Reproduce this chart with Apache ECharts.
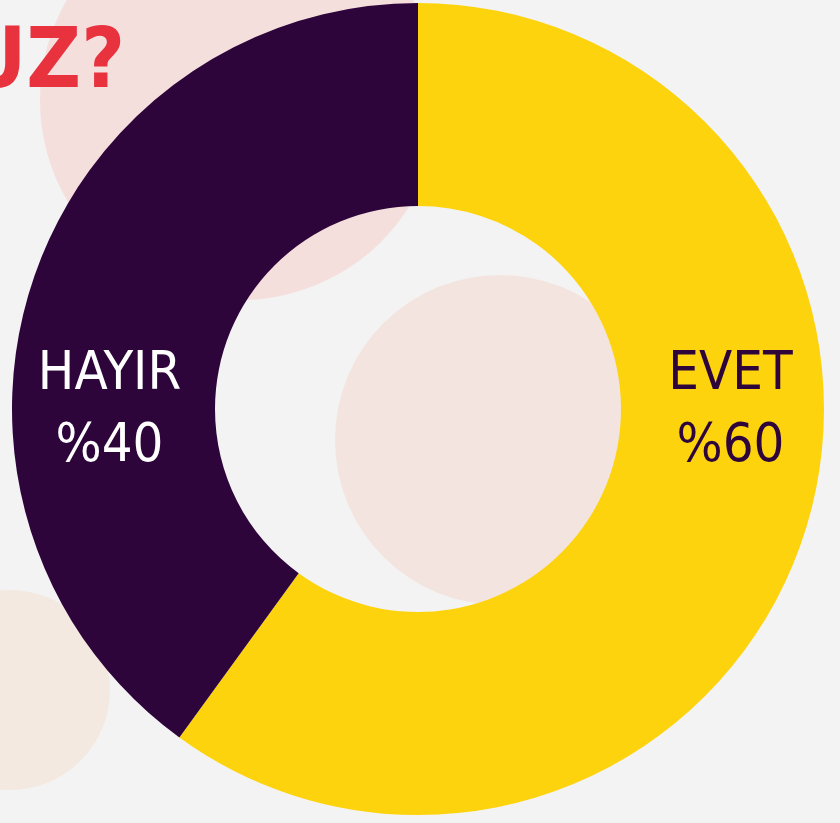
<!DOCTYPE html>
<html>
<head>
<meta charset="utf-8">
<script src="https://cdn.jsdelivr.net/npm/echarts@6/dist/echarts.min.js"></script>
<style>
  html, body { margin: 0; padding: 0; background: #f3f3f3; }
  #chart { width: 840px; height: 823px; }
</style>
</head>
<body>
<div id="chart"></div>
<script>
const categories = ['EVET', 'HAYIR'];
const values = [60, 40];
const colors = ['#FDD30E', '#2E053B'];
const labelColors = ['#2E053B', '#ffffff'];

const CX = 418, CY = 409, R_IN = 203, R_OUT = 406;
const FONT = '"DejaVu Sans", sans-serif';

const chart = echarts.init(document.getElementById('chart'));

const option = {
  backgroundColor: '#f3f3f3',
  animation: false,
  title: {
    text: 'UZ?',
    left: -40,
    top: 18,
    textStyle: {
      color: '#E8333F',
      fontSize: 84,
      // goes into the canvas font shorthand -> bold + condensed face
      fontWeight: 'bold condensed',
      fontFamily: FONT
    }
  },
  // faded background photo, roughly
  graphic: [
    { type: 'circle', z: -10, shape: { cx: 240, cy: 100, r: 200 }, style: { fill: '#f5dfdd' } },
    { type: 'circle', z: -10, shape: { cx: 500, cy: 440, r: 165 }, style: { fill: '#f3e4df' } },
    { type: 'circle', z: -10, shape: { cx: 10, cy: 690, r: 100 }, style: { fill: '#f3e9e0' } }
  ],
  series: [
    {
      type: 'pie',
      center: [CX, CY],
      radius: [R_IN, R_OUT],
      startAngle: 90,
      clockwise: true,
      silent: true,
      data: categories.map((name, i) => ({
        name,
        value: values[i],
        itemStyle: { color: colors[i] },
        label: { color: labelColors[i] }
      })),
      label: {
        show: true,
        position: 'inside',
        align: 'center',
        verticalAlign: 'middle',
        fontFamily: FONT,
        fontWeight: 'condensed',
        fontSize: 54,
        lineHeight: 72,
        formatter: p => p.name + '\n%' + p.value
      },
      labelLine: { show: false },
      labelLayout: function (params) {
        const mid = (R_IN + R_OUT) / 2;
        return {
          x: params.dataIndex === 0 ? CX + mid + 8 : CX - mid - 4,
          y: CY + 2,
          align: 'center',
          verticalAlign: 'middle'
        };
      }
    }
  ]
};

chart.setOption(option);
window.addEventListener('resize', () => chart.resize());
</script>
</body>
</html>
